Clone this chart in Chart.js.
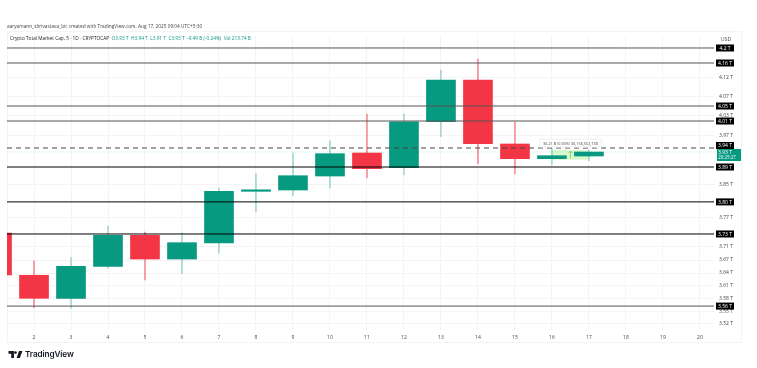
<!DOCTYPE html>
<html>
<head>
<meta charset="utf-8">
<style>
  html, body { margin: 0; padding: 0; background: #fff; }
  body { width: 757px; height: 368px; position: relative; overflow: hidden; font-family: "Open Sans", sans-serif; }
  #tudo { position: absolute; left: 0; top: 0; width: 757px; height: 368px; filter: blur(0.3px); }
  #wrap { position: absolute; left: 0; top: 0; width: 757px; height: 368px; }
  #painel { position: absolute; left: 7px; top: 31px; width: 735px; height: 312px; border: 1px solid #f3f4f8; box-sizing: border-box; }
  .txt { position: absolute; white-space: nowrap; color: #333; }
  #autor { left: 7px; top: 23px; font-size: 4.75px; color: #444; }
  #legenda { left: 10px; top: 35px; font-size: 4.75px; color: #222; }
  #legenda b { font-weight: normal; color: #089981; }
  #logo { left: 8px; top: 349px; font-size: 8.2px; font-weight: 600; color: #131722; font-family: "Inter", sans-serif; letter-spacing: -0.1px; }
  #moeda { left: 721px; top: 36px; font-size: 5px; color: #444; }
</style>
</head>
<body>
<div id="tudo">
<div id="painel"></div>
<div id="wrap"><canvas id="grafico" width="757" height="368"></canvas></div>
<div class="txt" id="autor">aaryamann_shrivastava_bic created with TradingView.com, Aug 17, 2025 09:04 UTC+5:30</div>
<div class="txt" id="legenda">Crypto Total Market Cap, 5 · 1D · CRYPTOCAP &nbsp;<b>O3.93 T &nbsp;H3.94 T &nbsp;L3.91 T &nbsp;C3.93 T &nbsp;-9.49 B (-0.24%) &nbsp;Vol 213.74 B</b></div>
<div class="txt" id="moeda">USD</div>
<div class="txt" id="logo"><svg width="15" height="7" viewBox="0 0 36 18" style="vertical-align:-0.5px"><path fill="#131722" d="M0 0h14v18H7V7H0zM20 0h16l-7 18h-8l6-18z"/><circle cx="18" cy="4" r="3.4" fill="#131722"/></svg> TradingView</div>
</div>

<script src="https://cdn.jsdelivr.net/npm/chart.js@4"></script>
<script>
// Candles (day of month, values in trillions)
const dias = [1, 2, 3, 4, 5, 6, 7, 8, 9, 10, 11, 12, 13, 14, 15, 16, 17];
const abertura = [3.7307, 3.6310, 3.5778, 3.6518, 3.7251, 3.6689, 3.7069, 3.8316, 3.8348, 3.8693, 3.9268, 3.8900, 4.0063, 4.1148, 3.9495, 3.9125, 3.9192];
const fechamento = [3.6317, 3.5778, 3.6518, 3.7251, 3.6689, 3.7076, 3.8316, 3.8348, 3.8701, 3.9250, 3.8875, 4.0063, 4.1148, 3.9503, 3.9125, 3.9200, 3.9293];
const maximo = [3.7307, 3.6649, 3.6721, 3.7473, 3.7331, 3.7307, 3.8397, 3.8761, 3.9268, 3.9578, 4.0261, 4.0261, 4.1412, 4.1705, 4.0063, 3.9394, 3.9344];
const minimo = [3.6317, 3.5566, 3.5550, 3.6478, 3.6199, 3.6345, 3.6830, 3.7811, 3.8201, 3.8397, 3.8644, 3.8718, 3.9680, 3.8993, 3.8743, 3.8968, 3.9075];

// Horizontal levels drawn on the chart
const niveis = [4.2, 4.1598, 4.0468, 4.0081, 3.8917, 3.8057, 3.7283, 3.56];
const niveisRotulo = ["4.2 T", "4.16 T", "4.05 T", "4.01 T", "3.89 T", "3.80 T", "3.73 T", "3.56 T"];
const nivelTracejado = 3.9394;
const precoAtual = 3.9293;

// Axis ticks: position and the label shown for it
const ticksY = [4.1208, 4.0710, 4.0210, 3.9698, 3.8488, 3.7684, 3.6979, 3.6666, 3.6362, 3.6062, 3.5778, 3.5481, 3.5203];
const ticksYRotulo = ["4.12 T", "4.07 T", "4.03 T", "3.97 T", "3.85 T", "3.77 T", "3.71 T", "3.67 T", "3.64 T", "3.61 T", "3.58 T", "3.55 T", "3.52 T"];
const ticksX = [2, 3, 4, 5, 6, 7, 8, 9, 10, 11, 12, 13, 14, 15, 16, 17, 18, 19, 20];

const VERDE = "#089981";
const VERMELHO = "#f23645";
const corCandle = dias.map((d, i) => fechamento[i] >= abertura[i] ? VERDE : VERMELHO);
const corPavio = dias.map((d, i) => fechamento[i] >= abertura[i] ? "rgba(8,153,129,0.35)" : "rgba(242,54,69,0.55)");

const xMin = 1.27, xMax = 20.38;

const nivelDatasets = niveis.map((v) => ({
  type: "line",
  data: [{ x: xMin, y: v }, { x: xMax, y: v }],
  borderColor: v >= 4.0 || v === 3.56 ? "#555" : "#000",
  borderWidth: 1,
  pointRadius: 0,
  order: 0,
}));

// Measure tool and axis badges
const extras = {
  id: "extras",
  beforeDatasetsDraw(chart) {
    const { ctx, scales: { x, y } } = chart;
    ctx.save();
    ctx.fillStyle = "rgba(190,245,160,0.55)";
    const x0 = x.getPixelForValue(16), x1 = x.getPixelForValue(17);
    const y0 = y.getPixelForValue(3.9344), y1 = y.getPixelForValue(3.91);
    ctx.fillRect(x0, y0, x1 - x0, y1 - y0);
    // arrow
    const mx = (x0 + x1) / 2;
    ctx.strokeStyle = "#7fd68a";
    ctx.lineWidth = 1;
    ctx.beginPath();
    ctx.moveTo(mx, y1 - 1);
    ctx.lineTo(mx, y0 + 1);
    ctx.moveTo(mx - 2, y0 + 3);
    ctx.lineTo(mx, y0 + 1);
    ctx.lineTo(mx + 2, y0 + 3);
    ctx.stroke();
    ctx.restore();
  },
  afterDraw(chart) {
    const { ctx, scales: { x, y }, chartArea } = chart;
    ctx.save();
    ctx.textAlign = "center";
    ctx.textBaseline = "middle";

    // Tool label
    const lx = x.getPixelForValue(16.5);
    const ly = y.getPixelForValue(3.952);
    ctx.fillStyle = "#fff";
    ctx.strokeStyle = "#eee";
    ctx.lineWidth = 1;
    ctx.fillRect(lx - 31, ly - 4, 62, 8);
    ctx.strokeRect(lx - 31, ly - 4, 62, 8);
    ctx.fillStyle = "#444";
    ctx.font = "3.8px 'Open Sans', sans-serif";
    ctx.fillText("36.21 B (0.93%) 36,156,552,738", lx, ly + 0.5);
    ctx.font = "5px 'Open Sans', sans-serif";

    // Level badges
    const bx = chartArea.right + 2;
    const badge = (v, txt, desloc) => {
      const py = y.getPixelForValue(v) + desloc;
      ctx.fillStyle = "#000";
      ctx.fillRect(bx, py - 3.5, 18, 7);
      ctx.fillStyle = "#fff";
      ctx.fillText(txt, bx + 9, py + 0.5);
    };
    niveis.forEach((v, i) => badge(v, niveisRotulo[i], 0));
    badge(nivelTracejado, "3.94 T", -2.5);

    // Current price badge
    ctx.fillStyle = VERDE;
    ctx.fillRect(bx + 1, 149, 24, 12);
    ctx.fillStyle = "#fff";
    ctx.fillText("3.93 T", bx + 9, 152.5);
    ctx.font = "4.4px 'Open Sans', sans-serif";
    ctx.fillText("20:25:27", bx + 11, 157.5);
    ctx.restore();
  },
};

new Chart(document.getElementById("grafico").getContext("2d"), {
  type: "bar",
  data: {
    datasets: [
      ...nivelDatasets,
      {
        type: "line",
        data: [{ x: xMin, y: nivelTracejado }, { x: xMax, y: nivelTracejado }],
        borderColor: "#444",
        borderWidth: 1,
        borderDash: [5, 4],
        pointRadius: 0,
        order: 0,
      },
      {
        type: "line",
        data: [{ x: xMin, y: precoAtual }, { x: xMax, y: precoAtual }],
        borderColor: "rgba(60,215,185,0.3)",
        borderWidth: 1,
        borderDash: [1, 1],
        pointRadius: 0,
        order: 3,
      },
      {
        data: dias.map((d, i) => ({ x: d, y: [minimo[i], maximo[i]] })),
        backgroundColor: corPavio,
        barThickness: 1,
        grouped: false,
        order: 2,
      },
      {
        data: dias.map((d, i) => ({ x: d, y: [abertura[i], fechamento[i]] })),
        backgroundColor: corCandle,
        borderColor: corCandle,
        barThickness: 29,
        minBarLength: 1.5,
        grouped: false,
        order: 1,
      },
    ],
  },
  options: {
    responsive: false,
    animation: false,
    layout: { padding: { left: 7, right: 15, top: 35, bottom: 25 } },
    plugins: { legend: { display: false }, tooltip: { enabled: false } },
    scales: {
      x: {
        type: "linear",
        offset: false,
        min: xMin,
        max: xMax,
        afterBuildTicks: (s) => { s.ticks = ticksX.map((v) => ({ value: v })); },
        afterFit: (s) => { s.height = 13; },
        grid: { color: "#f4f4f6", drawTicks: false, offset: false },
        border: { display: false },
        ticks: { color: "#444", font: { size: 5, family: "'Open Sans', sans-serif" }, maxRotation: 0, autoSkip: false, padding: 5 },
      },
      y: {
        type: "logarithmic",
        position: "right",
        min: 3.5059,
        max: 4.2351,
        afterBuildTicks: (s) => { s.ticks = ticksY.map((v) => ({ value: v })); },
        afterFit: (s) => { s.width = 28; },
        grid: { color: "#f4f4f6", drawTicks: false },
        border: { display: false },
        ticks: {
          color: "#444",
          font: { size: 5, family: "'Open Sans', sans-serif" },
          padding: 5,
          autoSkip: false,
          callback: (v, i) => ticksYRotulo[i],
        },
      },
    },
  },
  plugins: [extras],
});
</script>
</body>
</html>
